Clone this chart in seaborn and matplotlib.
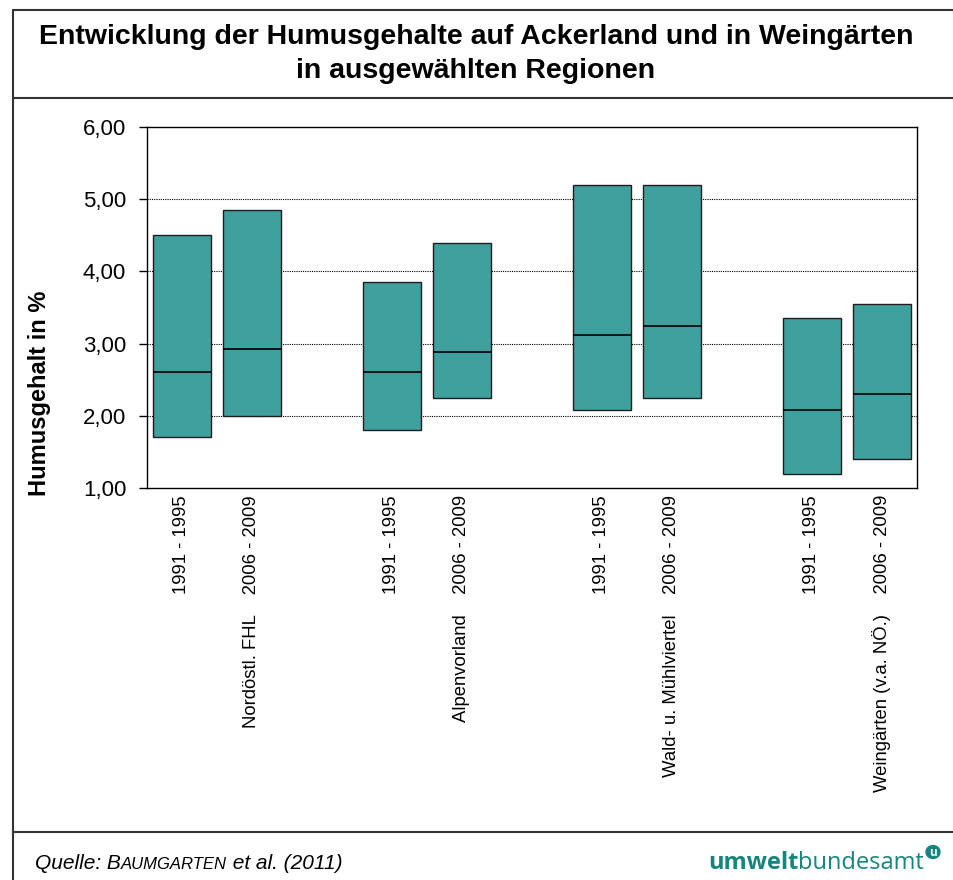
import matplotlib
matplotlib.use("Agg")
import matplotlib.pyplot as plt
from matplotlib.lines import Line2D
from matplotlib.patches import Circle
import pandas as pd
import seaborn as sns

# data (Humusgehalt in %)
periods = ["1991 - 1995", "2006 - 2009"]
regions = ["Nordöstl. FHL", "Alpenvorland", "Wald- u. Mühlviertel", "Weingärten (v.a. NÖ.)"]
low = [1.70, 2.00, 1.80, 2.25, 2.08, 2.25, 1.20, 1.40]
median = [2.60, 2.93, 2.60, 2.88, 3.12, 3.24, 2.08, 2.30]
high = [4.50, 4.85, 3.85, 4.40, 5.20, 5.20, 3.35, 3.55]
yticks = [1, 2, 3, 4, 5, 6]

title = "Entwicklung der Humusgehalte auf Ackerland und in Weingärten\nin ausgewählten Regionen"
ylabel = "Humusgehalt in %"

BAR = "#40a09e"
TEAL = "#17857f"

# slot order: two periods per region, an empty slot between regions
order, ticklabels, slot_keys = [], [], []
for r_i, region in enumerate(regions):
    for p_i, period in enumerate(periods):
        key = f"{region}|{period}"
        order.append(key)
        slot_keys.append(key)
        ticklabels.append(period if p_i == 0 else f"{region}    {period}")
    if r_i < len(regions) - 1:
        order.append(f"gap{r_i}")
        ticklabels.append("")

df = pd.DataFrame({
    "slot": slot_keys,
    "low": low,
    "median": median,
    "high": high,
})
df["span"] = df["high"] - df["low"]

sns.set_style("white")
plt.rcParams["font.family"] = ["Liberation Sans", "DejaVu Sans"]
plt.rcParams["text.color"] = "black"
plt.rcParams["xtick.color"] = "black"
plt.rcParams["ytick.color"] = "black"
plt.rcParams["axes.labelcolor"] = "black"

fig = plt.figure(figsize=(9.54, 8.8), dpi=100)
ax = fig.add_axes([147 / 954, 1 - 488 / 880, 770 / 954, 361 / 880])

box_w = 0.83
sns.barplot(data=df, x="slot", y="span", order=order, bottom=df["low"].values,
            width=box_w, color=BAR, edgecolor="#1e1e1e", linewidth=1.0,
            saturation=1, ax=ax, zorder=3)

pos = [order.index(k) for k in df["slot"]]
ax.hlines(df["median"], [p - box_w / 2 for p in pos], [p + box_w / 2 for p in pos],
          colors="black", linewidth=1.2, zorder=4)

ax.set_ylim(1, 6)
ax.set_xlim(-0.5, len(order) - 0.5)
ax.set_yticks(yticks)
ax.set_yticklabels([f"{v:.2f}".replace(".", ",") for v in yticks], fontsize=16)
ax.set_xticks(range(len(order)))
ax.set_xticklabels(ticklabels, rotation=90, va="top", ha="center", fontsize=13.3)
ax.set_xticks([i - 0.5 for i in range(len(order) + 1)], minor=True)
ax.tick_params(axis="x", which="major", length=0, pad=5)
ax.tick_params(axis="x", which="minor", length=6, width=1, color="black", direction="out")
ax.tick_params(axis="y", length=6, width=1, color="black", direction="out", left=True, pad=9)
ax.set_xlabel("")
ax.set_ylabel("")
for g in yticks[1:-1]:
    ax.axhline(g, color="black", linewidth=0.8, linestyle=(0, (1, 1)), zorder=1)
for s in ax.spines.values():
    s.set_color("black")
    s.set_linewidth(1.0)

fig.text(40 / 954, 1 - 393 / 880, ylabel, rotation=90, ha="center", va="center",
         fontsize=17, fontweight="bold")

fig.text(476 / 954, 1 - 54 / 880, title, ha="center", va="center",
         fontsize=20.5, fontweight="bold", linespacing=1.38)

# frame lines
for xs, ys in [((13, 13), (10, 880)), ((13, 954), (10, 10)),
               ((13, 954), (98, 98)), ((13, 954), (832, 832))]:
    fig.add_artist(Line2D([x / 954 for x in xs], [1 - y / 880 for y in ys],
                          color="#333333", linewidth=1.5))

# footer: source with small caps
fig.canvas.draw()
r = fig.canvas.get_renderer()
x0 = 35
base = 1 - 869 / 880
parts = [("Quelle: B", 15), ("AUMGARTEN", 12), (" et al. (2011)", 15)]
for txt, fs in parts:
    t = fig.text(x0 / 954, base, txt, fontsize=fs, style="italic", va="baseline", ha="left")
    x0 += t.get_window_extent(r).width

# logo
t2 = fig.text(924 / 954, base, "bundesamt", fontsize=17, color=TEAL, family="Open Sans",
              ha="right", va="baseline")
w2 = t2.get_window_extent(r).width
fig.text((924 - w2) / 954, base, "umwelt", fontsize=17, color=TEAL, family="Open Sans",
         fontweight="bold", ha="right", va="baseline")
fig.add_artist(Circle((933 / 954, 1 - 852 / 880), 7 / 954, transform=fig.transFigure,
                      color=TEAL))
fig.text(933 / 954, 1 - 852 / 880, "u", fontsize=8.5, color="white", fontweight="bold",
         ha="center", va="center", family="Open Sans")

fig.savefig("out.png", dpi=100)
